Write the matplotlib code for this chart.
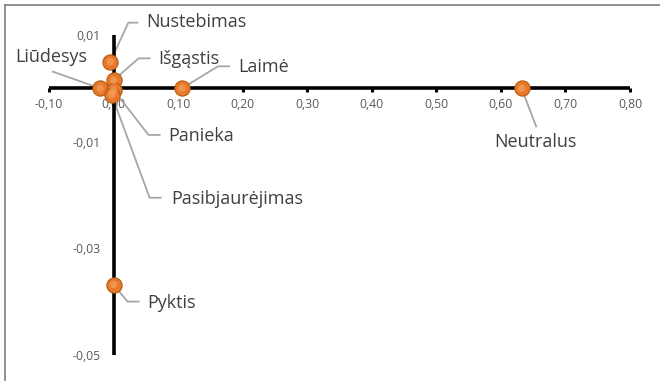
import matplotlib
matplotlib.use("Agg")
import matplotlib.pyplot as plt
from matplotlib.lines import Line2D
import numpy as np

# ---- data ----
labels = ["Nustebimas", "Išgąstis", "Liūdesys", "Laimė", "Panieka",
          "Pasibjaurėjimas", "Neutralus", "Pyktis"]
x_vals = [-0.005, 0.000, -0.021, 0.106, 0.000, -0.003, 0.632, 0.000]
y_vals = [0.0050, 0.0015, 0.0000, 0.0000, -0.0003, -0.0012, 0.0000, -0.0368]

x_ticks = [-0.10, 0.00, 0.10, 0.20, 0.30, 0.40, 0.50, 0.60, 0.70, 0.80]
x_tick_labels = ["-0,10", "0,00", "0,10", "0,20", "0,30", "0,40", "0,50", "0,60", "0,70", "0,80"]
y_ticks = [-0.05, -0.03, -0.01, 0.01]
y_tick_labels = ["-0,05", "-0,03", "-0,01", "0,01"]

# leader-line layout (pixel offsets from point): elbow, horizontal end, text anchor, ha
leaders = {
    "Nustebimas":      ((18, 39), (28, 39), (36, 40), "left"),
    "Išgąstis":        ((25, 22), (37, 22), (45, 21), "left"),
    "Liūdesys":        ((-48, 17), None, (-49, 31), "center"),
    "Laimė":           ((36, 22), (48, 22), (56, 21), "left"),
    "Panieka":         ((35, -45), (47, -45), (55, -46), "left"),
    "Pasibjaurėjimas": ((38, -103), (50, -103), (60, -104), "left"),
    "Neutralus":       ((15, -39), None, (14, -54), "center"),
    "Pyktis":          ((14, -17), (26, -17), (34, -18), "left"),
}

W, H = 660, 381
fig = plt.figure(figsize=(W / 100, H / 100), dpi=100)
ax = fig.add_axes([49 / W, (H - 355) / H, 581 / W, 320 / H])
ax.set_xlim(-0.10, 0.80)
ax.set_ylim(-0.05, 0.01)
ax.patch.set_alpha(0)

for s in ["top", "right"]:
    ax.spines[s].set_visible(False)
ax.spines["left"].set_position(("data", 0))
ax.spines["bottom"].set_position(("data", 0))
for s in ["left", "bottom"]:
    ax.spines[s].set_linewidth(2.6)
    ax.spines[s].set_color("black")
    ax.spines[s].set_capstyle("butt")

ax.set_xticks(x_ticks)
ax.set_xticklabels(x_tick_labels)
ax.set_yticks(y_ticks)
ax.set_yticklabels(y_tick_labels)
ax.tick_params(axis="x", direction="out", length=3, width=2.2, color="black",
               labelsize=8.8, labelcolor="#595959", pad=4)
ax.tick_params(axis="y", length=0, labelsize=8.8, labelcolor="#595959", pad=9)
for t in ax.get_xticklabels() + ax.get_yticklabels():
    t.set_fontfamily("Open Sans")

# leaders
fig.canvas.draw()
tr = ax.transData
inv = tr.inverted()
for lab, xv, yv in zip(labels, x_vals, y_vals):
    elbow, hend, txt, ha = leaders[lab]
    p = tr.transform((xv, yv))
    pts = [p, p + np.array(elbow)]
    if hend is not None:
        pts.append(p + np.array(hend))
    dpts = inv.transform(np.array(pts))
    ax.plot(dpts[:, 0], dpts[:, 1], color="#A6A6A6", lw=1.3, zorder=2,
            solid_capstyle="butt", clip_on=False)
    tp = inv.transform(p + np.array(txt))
    ax.text(tp[0], tp[1], lab, ha=ha, va="center", fontsize=13,
            color="#404040", fontfamily="Open Sans", zorder=4)

ax.scatter(x_vals, y_vals, s=120, color="#E8782A", edgecolors="#B55A12",
           linewidths=0.8, zorder=5, clip_on=False)
ax.scatter(x_vals, y_vals, s=28, color="#F6A866", edgecolors="none",
           zorder=6, clip_on=False, alpha=0.6)

# outer frame (top and left visible)
fig.add_artist(Line2D([5 / W, 1], [1 - 5 / H, 1 - 5 / H], color="#7F7F7F", lw=1.2))
fig.add_artist(Line2D([5 / W, 5 / W], [0, 1 - 5 / H], color="#7F7F7F", lw=1.2))

fig.savefig("out.png", dpi=100)
